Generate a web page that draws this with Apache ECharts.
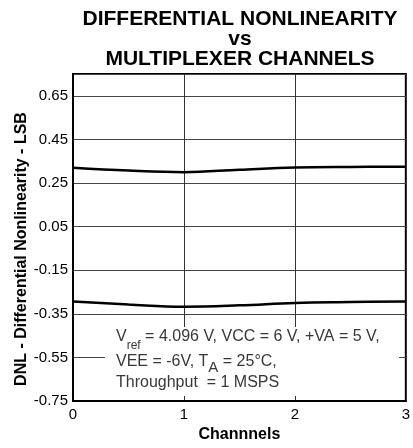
<!DOCTYPE html>
<html>
<head>
<meta charset="utf-8">
<script src="https://cdn.jsdelivr.net/npm/echarts@6/dist/echarts.min.js"></script>
<style>
html,body{margin:0;padding:0;background:#fff;}
#chart{width:413px;height:448px;}
</style>
</head>
<body>
<div id="chart"></div>
<script>
// Data
var channels = [0, 0.5, 1, 1.5, 2, 2.5, 3];
var dnlMax = [0.320, 0.307, 0.300, 0.311, 0.321, 0.324, 0.325];
var dnlMin = [-0.293, -0.307, -0.317, -0.311, -0.300, -0.296, -0.293];
var xTicks = [0, 1, 2, 3];
var yTicks = [-0.75, -0.55, -0.35, -0.15, 0.05, 0.25, 0.45, 0.65];

var FONT = '"Liberation Sans", Arial, Helvetica, sans-serif';
var TXT = '#383838';

function pairs(xs, ys) {
  return xs.map(function (x, i) { return [x, ys[i]]; });
}

var chart = echarts.init(document.getElementById('chart'), null, {renderer: 'canvas'});

var subRich = {
  m: {fontSize: 16, fontFamily: FONT, fill: TXT, lineHeight: 29, verticalAlign: 'middle'},
  s: {fontSize: 12, fontFamily: FONT, fill: TXT, lineHeight: 12, verticalAlign: 'bottom'}
};
var subRich2 = {
  m: {fontSize: 16, fontFamily: FONT, fill: TXT, lineHeight: 27, verticalAlign: 'middle'},
  s: {fontSize: 15, fontFamily: FONT, fill: TXT, lineHeight: 14, verticalAlign: 'bottom'}
};

var option = {
  animation: false,
  backgroundColor: '#fff',
  grid: {
    left: 73, right: 6, top: 74, bottom: 41,
    show: true, borderColor: '#000', borderWidth: 2, containLabel: false
  },
  xAxis: {
    type: 'value',
    min: xTicks[0], max: xTicks[xTicks.length - 1], interval: 1,
    name: 'Channnels',
    nameLocation: 'middle',
    nameGap: 21,
    nameTextStyle: {fontFamily: FONT, fontSize: 16, fontWeight: 'bold', color: '#000'},
    axisLine: {show: true, onZero: false, lineStyle: {color: '#000', width: 2}},
    axisTick: {show: false},
    axisLabel: {fontFamily: FONT, fontSize: 15, color: '#000', margin: 6},
    splitLine: {show: true, lineStyle: {color: '#333', width: 1}}
  },
  yAxis: {
    type: 'value',
    min: yTicks[0], max: 0.75, interval: 0.2,
    axisLine: {show: true, onZero: false, lineStyle: {color: '#000', width: 2}},
    axisTick: {show: false},
    axisLabel: {
      fontFamily: FONT, fontSize: 15, color: '#000', margin: 5,
      showMaxLabel: false,
      formatter: function (v) { return v > 0.7 ? '' : v.toFixed(2); }
    },
    splitLine: {show: true, lineStyle: {color: '#444', width: 1}}
  },
  series: [
    {
      type: 'line', data: pairs(channels, dnlMax), smooth: 0.4,
      symbol: 'none', lineStyle: {color: '#000', width: 2.5}, z: 5
    },
    {
      type: 'line', data: pairs(channels, dnlMin), smooth: 0.4,
      symbol: 'none', lineStyle: {color: '#000', width: 2.5}, z: 5
    }
  ],
  graphic: [
    {
      type: 'text', silent: true,
      x: 240, y: 39.5,
      style: {
        text: 'DIFFERENTIAL NONLINEARITY\nvs\nMULTIPLEXER CHANNELS',
        fontFamily: FONT, fontSize: 21, fontWeight: 'bold', fill: '#000',
        lineHeight: 20, align: 'center', verticalAlign: 'middle'
      }
    },
    {
      type: 'text', silent: true,
      x: 22, y: 249, rotation: Math.PI / 2,
      style: {
        text: 'DNL - Differential Nonlinearity - LSB',
        fontFamily: FONT, fontSize: 16, fontWeight: 'bold', fill: '#000',
        align: 'center', verticalAlign: 'middle'
      }
    },
    {
      type: 'rect', silent: true, z: 10,
      shape: {x: 105, y: 327, width: 294, height: 69},
      style: {fill: '#fff'}
    },
    {
      type: 'text', silent: true, z: 11,
      x: 116, y: 337,
      style: {
        text: '{m|V}{s|ref}{m| = 4.096 V, VCC = 6 V, +VA = 5 V,}',
        rich: subRich, align: 'left', verticalAlign: 'middle'
      }
    },
    {
      type: 'text', silent: true, z: 11,
      x: 116, y: 362,
      style: {
        text: '{m|VEE = -6V, T}{s|A}{m| = 25°C,}',
        rich: subRich2, align: 'left', verticalAlign: 'middle'
      }
    },
    {
      type: 'text', silent: true, z: 11,
      x: 116, y: 383,
      style: {
        text: 'Throughput  = 1 MSPS',
        fontFamily: FONT, fontSize: 16, fill: TXT,
        align: 'left', verticalAlign: 'middle'
      }
    }
  ]
};
chart.setOption(option);
</script>
</body>
</html>
